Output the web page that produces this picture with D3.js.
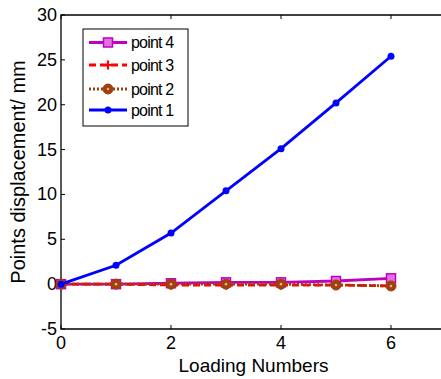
<!DOCTYPE html>
<html>
<head>
<meta charset="utf-8">
<script src="https://cdn.jsdelivr.net/npm/d3@7"></script>
<style>
  body { margin: 0; background: #fff; }
  text { font-family: "Liberation Sans", Arial, sans-serif; }
</style>
</head>
<body>
<div id="chart"></div>
<script>
var loads = [0, 1, 2, 3, 4, 5, 6];
var point1 = [0, 2.1, 5.7, 10.4, 15.1, 20.2, 25.4];
var point2 = [0, 0, 0, 0, 0, -0.1, -0.2];
var point3 = [0, 0, -0.1, -0.1, -0.1, -0.1, -0.2];
var point4 = [0, 0, 0.1, 0.2, 0.2, 0.35, 0.65];
var xTicks = [0, 2, 4, 6];
var yTicks = [-5, 0, 5, 10, 15, 20, 25, 30];

var W = 441, H = 379;
var margin = { top: 15, left: 61 };
var height = 314;

var svg = d3.select("#chart").append("svg")
    .attr("width", W).attr("height", H);

var x = d3.scaleLinear().domain([0, 7]).range([margin.left, margin.left + 385]);
var y = d3.scaleLinear().domain([-5, 30]).range([margin.top + height, margin.top]);

// box
svg.append("path")
    .attr("d", "M" + x(7) + "," + y(30) + "H" + x(0) + "V" + y(-5) + "H" + x(7))
    .attr("fill", "none").attr("stroke", "#000").attr("stroke-width", 1.3);

// ticks
xTicks.forEach(function (t) {
    svg.append("line").attr("x1", x(t)).attr("x2", x(t))
        .attr("y1", y(-5)).attr("y2", y(-5) - 4).attr("stroke", "#000");
    svg.append("line").attr("x1", x(t)).attr("x2", x(t))
        .attr("y1", y(30)).attr("y2", y(30) + 4).attr("stroke", "#000");
    svg.append("text").attr("x", x(t)).attr("y", y(-5) + 20)
        .attr("text-anchor", "middle").attr("font-size", 18).text(t);
});
yTicks.forEach(function (t) {
    svg.append("line").attr("x1", x(0)).attr("x2", x(0) + 4)
        .attr("y1", y(t)).attr("y2", y(t)).attr("stroke", "#000");
    svg.append("text").attr("x", x(0) - 4).attr("y", y(t) + 6)
        .attr("text-anchor", "end").attr("font-size", 18).text(t);
});

svg.append("text").attr("x", x(3.5)).attr("y", 372)
    .attr("text-anchor", "middle").attr("font-size", 19).text("Loading Numbers");
svg.append("text")
    .attr("transform", "translate(25," + y(12.5) + ") rotate(-90)")
    .attr("text-anchor", "middle").attr("font-size", 20).text("Points displacement/ mm");

var series = [
    { name: "point 4", vals: point4, color: "#c000c0", dash: null, marker: "square" },
    { name: "point 3", vals: point3, color: "#ff0000", dash: "7,4", marker: "plus" },
    { name: "point 2", vals: point2, color: "#a0400a", dash: "2,2", marker: "circle" },
    { name: "point 1", vals: point1, color: "#0000ff", dash: null, marker: "dot" }
];

function drawMarker(g, m, color, cx, cy) {
    if (m === "square") {
        g.append("rect").attr("x", cx - 4.5).attr("y", cy - 4.5).attr("width", 9).attr("height", 9)
            .attr("fill", "#e070e0").attr("stroke", color).attr("stroke-width", 1.5);
    } else if (m === "plus") {
        g.append("path").attr("d", "M" + (cx - 4.5) + "," + cy + "h9M" + cx + "," + (cy - 4.5) + "v9")
            .attr("stroke", color).attr("stroke-width", 2.2);
    } else if (m === "circle") {
        g.append("circle").attr("cx", cx).attr("cy", cy).attr("r", 5)
            .attr("fill", color).attr("stroke", color).attr("stroke-width", 1);
        g.append("circle").attr("cx", cx).attr("cy", cy).attr("r", 1.3).attr("fill", "#e0b090");
    } else {
        g.append("circle").attr("cx", cx).attr("cy", cy).attr("r", 3.5).attr("fill", color);
    }
}

var line = d3.line().x(function (d, i) { return x(loads[i]); }).y(function (d) { return y(d); });

series.forEach(function (s) {
    var g = svg.append("g");
    g.append("path").datum(s.vals).attr("d", line)
        .attr("fill", "none").attr("stroke", s.color).attr("stroke-width", 2.8)
        .attr("stroke-dasharray", s.dash);
    s.vals.forEach(function (v, i) { drawMarker(g, s.marker, s.color, x(loads[i]), y(v)); });
});

// legend
var lg = svg.append("g");
lg.append("rect").attr("x", 83).attr("y", 29).attr("width", 105).attr("height", 97)
    .attr("fill", "#fff").attr("stroke", "#000").attr("stroke-width", 1);
var ly = [42.5, 65, 89, 110];
series.forEach(function (s, i) {
    lg.append("line").attr("x1", 89).attr("x2", 127).attr("y1", ly[i]).attr("y2", ly[i])
        .attr("stroke", s.color).attr("stroke-width", 2.8).attr("stroke-dasharray", s.dash);
    drawMarker(lg, s.marker, s.color, 108, ly[i]);
    lg.append("text").attr("x", 131).attr("y", ly[i] + 5.5).attr("font-size", 16)
        .attr("letter-spacing", -0.8).text(s.name);
});
</script>
</body>
</html>
